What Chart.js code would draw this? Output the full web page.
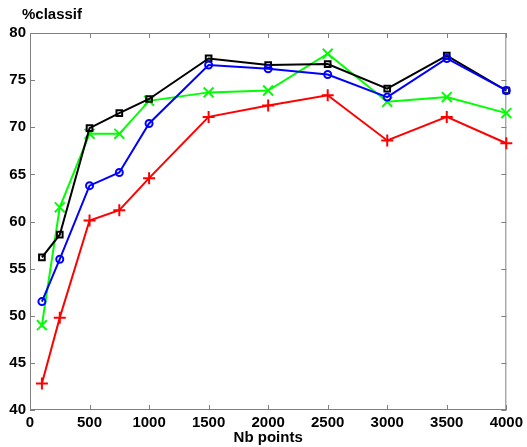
<!DOCTYPE html>
<html>
<head>
<meta charset="utf-8">
<script src="https://cdn.jsdelivr.net/npm/chart.js@4/dist/chart.umd.min.js"></script>
<style>
  html, body { margin: 0; padding: 0; background: #fff; }
  #wrap { width: 527px; height: 447px; }
</style>
</head>
<body>
<div id="wrap"><canvas id="myChart"></canvas></div>
<script>
// Données
const nbPoints = [100, 250, 500, 750, 1000, 1500, 2000, 2500, 3000, 3500, 4000];
const serieRouge = [42.8, 49.8, 60.1, 61.2, 64.6, 71.1, 72.3, 73.4, 68.6, 71.1, 68.3];
const serieBleue = [51.5, 56.0, 63.8, 65.2, 70.4, 76.6, 76.2, 75.6, 73.2, 77.3, 73.9];
const serieVerte = [49.0, 61.5, 69.3, 69.3, 72.8, 73.7, 73.9, 77.8, 72.7, 73.2, 71.5];
const serieNoire = [56.2, 58.6, 69.9, 71.5, 73.0, 77.3, 76.6, 76.7, 74.1, 77.6, 73.9];
const ticksX = [0, 500, 1000, 1500, 2000, 2500, 3000, 3500, 4000];
const ticksY = [40, 45, 50, 55, 60, 65, 70, 75, 80];

const police = { family: '"Liberation Sans", Arial, sans-serif', size: 15, weight: 'bold' };

function points(valeurs) {
    return nbPoints.map((x, i) => ({ x: x, y: valeurs[i] }));
}

// Cadre et graduations vers l'intérieur, façon Matlab
const cadreMatlab = {
    id: 'cadreMatlab',
    beforeDatasetsDraw(chart) {
        const ctx = chart.ctx;
        const a = chart.chartArea;
        const sx = chart.scales.x;
        const sy = chart.scales.y;
        ctx.save();
        ctx.strokeStyle = '#808080';
        ctx.lineWidth = 1;
        ctx.strokeRect(a.left + 0.5, a.top + 0.5, a.right - a.left - 1, a.bottom - a.top - 1);
        ctx.beginPath();
        ticksX.forEach(v => {
            const px = Math.round(sx.getPixelForValue(v)) + 0.5;
            ctx.moveTo(px, a.bottom); ctx.lineTo(px, a.bottom - 5);
            ctx.moveTo(px, a.top); ctx.lineTo(px, a.top + 5);
        });
        ticksY.forEach(v => {
            const py = Math.round(sy.getPixelForValue(v)) + 0.5;
            ctx.moveTo(a.left, py); ctx.lineTo(a.left + 5, py);
            ctx.moveTo(a.right, py); ctx.lineTo(a.right - 5, py);
        });
        ctx.stroke();
        // titre en haut à gauche
        ctx.fillStyle = '#000';
        ctx.font = 'bold 15px "Liberation Sans", Arial, sans-serif';
        ctx.textBaseline = 'middle';
        ctx.textAlign = 'left';
        ctx.fillText('%classif', 22, 15);
        ctx.restore();
    }
};

const ctx = document.getElementById('myChart').getContext('2d');
const myChart = new Chart(ctx, {
    type: 'line',
    data: {
        datasets: [
            { label: 'rouge', data: points(serieRouge), borderColor: '#ff0000', backgroundColor: '#ff0000',
              pointStyle: 'cross', pointRadius: 6, pointBorderWidth: 2 },
            { label: 'bleu', data: points(serieBleue), borderColor: '#0000ff', backgroundColor: 'rgba(0,0,0,0)',
              pointStyle: 'circle', pointRadius: 3.5, pointBorderWidth: 2 },
            { label: 'noir', data: points(serieNoire), borderColor: '#000000', backgroundColor: 'rgba(0,0,0,0)',
              pointStyle: 'rect', pointRadius: 4, pointBorderWidth: 2 },
            { label: 'vert', data: points(serieVerte), borderColor: '#00ff00', backgroundColor: '#00ff00',
              pointStyle: 'crossRot', pointRadius: 7, pointBorderWidth: 2 }
        ]
    },
    options: {
        responsive: true,
        maintainAspectRatio: false,
        animation: false,
        clip: false,
        elements: { line: { borderWidth: 2, tension: 0 } },
        layout: { padding: { top: 33, right: 19, left: 0, bottom: 0 } },
        plugins: {
            legend: { display: false },
            tooltip: { enabled: false }
        },
        scales: {
            x: {
                type: 'linear',
                min: 0, max: 4000,
                afterFit: s => { s.height = 37; },
                afterBuildTicks: s => { s.ticks = ticksX.map(v => ({ value: v })); },
                grid: { display: false, drawTicks: false },
                border: { display: false },
                ticks: { color: '#000', font: police, padding: 4, maxRotation: 0, autoSkip: false,
                         callback: v => String(v) },
                title: { display: true, text: 'Nb points', color: '#000', font: police, padding: { top: 0, bottom: 0 } }
            },
            y: {
                min: 40, max: 80,
                afterFit: s => { s.width = 30; },
                afterBuildTicks: s => { s.ticks = ticksY.map(v => ({ value: v })); },
                grid: { display: false, drawTicks: false },
                border: { display: false },
                ticks: { color: '#000', font: police, padding: 4, autoSkip: false,
                         callback: v => String(v) }
            }
        }
    },
    plugins: [cadreMatlab]
});
</script>
</body>
</html>
